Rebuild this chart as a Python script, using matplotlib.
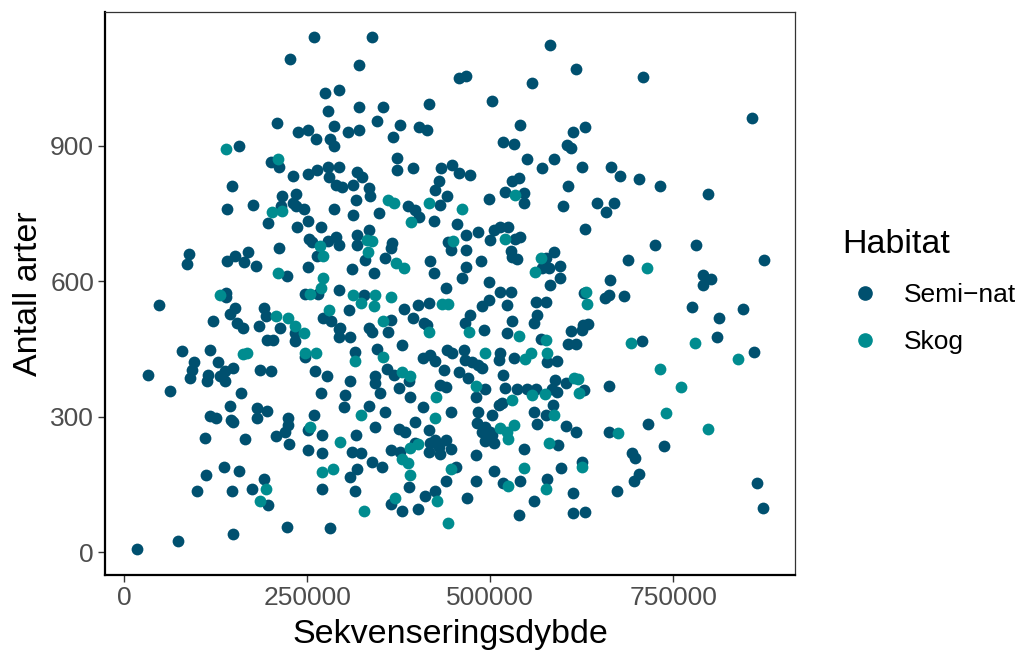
import numpy as np
import matplotlib
matplotlib.use("Agg")
import matplotlib.pyplot as plt
from matplotlib.lines import Line2D

plt.rcParams["font.family"] = ["Liberation Sans", "DejaVu Sans"]

# Sequencing depth (in thousands of reads) and species count per sample
semi_depth_k = [
    260, 227, 275, 293, 278, 209, 287, 237, 251, 262, 281, 287, 157, 338, 321, 582, 458, 467, 557, 503,
    417, 321, 353, 345, 377, 306, 321, 367, 403, 414, 541, 517, 533, 617, 709, 858, 629, 613, 605, 610,
    200, 212, 231, 251, 263, 278, 293, 280, 289, 147, 216, 235, 231, 176, 141, 214, 235, 245, 286, 197,
    251, 236, 269, 252, 256, 278, 290, 293, 264, 212, 89, 86, 140, 151, 169, 164, 180, 251, 222, 293,
    373, 373, 395, 318, 325, 298, 313, 334, 336, 317, 348, 313, 388, 398, 403, 430, 425, 433, 448, 457,
    473, 441, 432, 423, 455, 499, 520, 530, 540, 546, 546, 550, 571, 587, 607, 600, 318, 318, 334, 329,
    357, 366, 365, 311, 341, 418, 423, 440, 446, 443, 467, 484, 467, 505, 514, 525, 500, 534, 541, 528,
    530, 537, 488, 467, 461, 499, 513, 528, 576, 587, 571, 580, 596, 596, 582, 625, 665, 677, 703, 732,
    798, 646, 669, 658, 630, 725, 781, 874, 689, 791, 802, 791, 664, 139, 139, 47, 152, 144, 122, 154,
    163, 184, 191, 194, 213, 234, 234, 195, 203, 247, 265, 272, 282, 293, 293, 79, 117, 247, 96, 93,
    90, 128, 148, 138, 131, 138, 115, 113, 33, 62, 160, 186, 200, 261, 277, 269, 145, 117, 126, 146,
    148, 181, 195, 181, 224, 224, 220, 260, 251, 327, 307, 382, 402, 416, 364, 395, 409, 414, 295, 309,
    334, 339, 361, 473, 466, 489, 498, 491, 523, 530, 523, 562, 576, 564, 560, 569, 315, 345, 380, 408,
    418, 425, 441, 448, 464, 466, 475, 484, 489, 514, 512, 532, 578, 592, 359, 368, 375, 389, 437, 457,
    470, 432, 439, 493, 518, 520, 537, 550, 562, 584, 592, 603, 589, 309, 342, 343, 302, 301, 350, 390,
    480, 334, 357, 408, 398, 446, 484, 482, 503, 512, 516, 560, 576, 586, 564, 603, 342, 375, 384, 417,
    493, 500, 628, 657, 662, 683, 610, 626, 634, 627, 607, 617, 707, 776, 812, 845, 810, 860, 628, 662,
    716, 617, 662, 110, 165, 207, 225, 270, 251, 270, 137, 157, 112, 99, 147, 175, 191, 197, 270, 222,
    281, 149, 74, 18, 317, 425, 439, 418, 430, 446, 432, 416, 398, 377, 364, 311, 323, 338, 352, 318,
    309, 315, 389, 365, 380, 402, 411, 425, 439, 453, 469, 480, 481, 493, 505, 489, 503, 505, 518, 541,
    546, 560, 539, 577, 593, 597, 737, 694, 698, 625, 703, 696, 673, 613, 613, 629, 865, 873,
]
semi_species = [
    1140, 1093, 1017, 1024, 978, 950, 944, 930, 935, 914, 914, 899, 899, 1140, 1079, 1124, 1050, 1055, 1039, 1000,
    992, 987, 987, 956, 946, 931, 936, 919, 941, 934, 947, 909, 905, 1071, 1053, 961, 941, 931, 902, 896,
    863, 854, 832, 837, 847, 854, 854, 830, 814, 810, 788, 793, 773, 769, 759, 766, 766, 760, 761, 730,
    734, 719, 721, 693, 687, 690, 698, 681, 655, 673, 660, 638, 644, 656, 664, 642, 634, 631, 612, 581,
    873, 847, 851, 843, 831, 809, 814, 806, 788, 780, 751, 747, 767, 758, 743, 821, 803, 851, 858, 840,
    836, 788, 769, 734, 727, 783, 797, 821, 828, 795, 773, 871, 851, 871, 810, 766, 703, 681, 714, 647,
    652, 684, 673, 627, 619, 644, 619, 585, 670, 686, 703, 708, 670, 714, 721, 721, 692, 693, 698, 666,
    653, 650, 645, 631, 608, 598, 577, 577, 651, 664, 629, 629, 633, 607, 592, 854, 854, 834, 826, 810,
    793, 774, 773, 754, 716, 681, 681, 647, 647, 614, 605, 592, 603, 574, 565, 548, 540, 528, 512, 508,
    496, 500, 540, 524, 496, 486, 468, 470, 470, 572, 572, 518, 512, 494, 477, 446, 448, 433, 422, 403,
    385, 420, 407, 400, 389, 378, 392, 380, 392, 357, 353, 403, 401, 400, 390, 353, 324, 302, 296, 293,
    287, 319, 313, 296, 298, 282, 267, 304, 270, 570, 536, 538, 548, 551, 514, 518, 507, 503, 496, 477,
    496, 488, 488, 525, 507, 544, 559, 492, 548, 511, 485, 555, 555, 525, 507, 472, 444, 449, 459, 429,
    437, 423, 448, 441, 448, 426, 422, 415, 407, 441, 426, 429, 420, 423, 405, 392, 363, 378, 403, 398,
    385, 370, 366, 361, 392, 364, 361, 361, 361, 361, 355, 374, 381, 378, 390, 374, 348, 322, 352, 344,
    344, 324, 311, 322, 287, 311, 311, 285, 304, 326, 330, 311, 304, 326, 283, 279, 276, 272, 267, 270,
    278, 267, 574, 562, 570, 568, 490, 492, 506, 503, 460, 460, 468, 542, 519, 539, 476, 444, 358, 368,
    284, 267, 267, 253, 250, 256, 239, 259, 225, 219, 188, 180, 171, 135, 136, 139, 162, 104, 139, 56,
    53, 41, 24, 6, 259, 248, 248, 241, 233, 228, 217, 222, 241, 222, 225, 222, 219, 200, 189, 183,
    167, 136, 143, 106, 92, 95, 124, 135, 158, 188, 119, 215, 157, 245, 241, 267, 259, 180, 154, 158,
    228, 113, 82, 161, 237, 187, 235, 220, 209, 200, 174, 158, 135, 130, 86, 89, 152, 97,
]

skog_depth_k = [
    139, 210, 202, 216, 268, 271, 210, 272, 269, 361, 368, 392, 416, 462, 534, 332, 339, 333, 371, 382,
    449, 520, 569, 561, 714, 131, 208, 224, 234, 245, 254, 280, 163, 168, 247, 262, 254, 313, 343, 364,
    323, 341, 434, 443, 354, 416, 471, 539, 576, 315, 354, 493, 547, 556, 578, 380, 390, 480, 557, 575,
    426, 323, 425, 530, 587, 533, 514, 523, 631, 632, 693, 780, 838, 732, 614, 620, 622, 761, 740, 797,
    674, 295, 194, 185, 270, 285, 402, 391, 380, 388, 391, 327, 370, 427, 446, 443, 524, 525, 546, 576,
    581, 625,
]
skog_species = [
    892, 871, 754, 756, 677, 656, 619, 607, 586, 780, 773, 732, 773, 760, 790, 692, 688, 664, 640, 629,
    690, 693, 651, 621, 629, 570, 522, 518, 500, 485, 572, 537, 439, 441, 441, 442, 278, 570, 570, 565,
    551, 544, 550, 550, 511, 488, 488, 479, 470, 424, 432, 441, 427, 442, 442, 398, 390, 368, 348, 350,
    344, 304, 296, 337, 304, 282, 274, 267, 577, 549, 464, 463, 427, 405, 385, 383, 353, 366, 309, 272,
    263, 243, 140, 113, 178, 184, 239, 230, 206, 197, 171, 92, 120, 113, 184, 64, 250, 146, 187, 139,
    242, 189,
]

semi_depth = np.array(semi_depth_k) * 1000
skog_depth = np.array(skog_depth_k) * 1000

col_semi = "#00506F"
col_skog = "#008C8F"

fig = plt.figure(figsize=(10.21, 6.52), dpi=100)
ax = fig.add_axes([0.103, 0.118, 0.676, 0.864])

ax.scatter(semi_depth, semi_species, s=72, color=col_semi, linewidths=0, zorder=3)
ax.scatter(skog_depth, skog_species, s=72, color=col_skog, linewidths=0, zorder=3)

ax.set_xlim(-26000, 917000)
ax.set_ylim(-51, 1197)
ax.set_xticks([0, 250000, 500000, 750000])
ax.set_xticklabels(["0", "250000", "500000", "750000"])
ax.set_yticks([0, 300, 600, 900])

ax.tick_params(axis="both", colors="#333333", labelcolor="#4D4D4D",
               labelsize=19, length=5, width=1.0, pad=3)
for side in ["left", "bottom"]:
    ax.spines[side].set_color("black")
    ax.spines[side].set_linewidth(1.6)
for side in ["top", "right"]:
    ax.spines[side].set_color("#333333")
    ax.spines[side].set_linewidth(0.9)

ax.set_xlabel("Sekvenseringsdybde", fontsize=24.5, labelpad=6)
ax.set_ylabel("Antall arter", fontsize=24.5, labelpad=4)

handles = [
    Line2D([], [], marker="o", linestyle="none", markersize=9.5, color=col_semi, label="Semi\u2212nat"),
    Line2D([], [], marker="o", linestyle="none", markersize=9.5, color=col_skog, label="Skog"),
]
leg = fig.legend(handles=handles, title="Habitat", loc="center left",
                 bbox_to_anchor=(0.815, 0.553), frameon=False, fontsize=19,
                 title_fontsize=24.5, labelspacing=0.88, handletextpad=0.6,
                 handlelength=1.7, borderaxespad=0)
leg._legend_box.align = "left"

fig.savefig("out.png", dpi=100)
